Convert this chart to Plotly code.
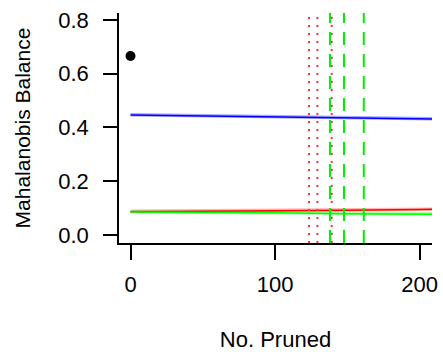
import plotly.graph_objects as go

# Data
x_pts = [0, 50, 100, 150, 200, 215]
blue_vals = [0.4465, 0.4430, 0.4400, 0.4370, 0.4320, 0.4310]
blue_light = [0.4470, 0.4440, 0.4395, 0.4380, 0.4335, 0.4320]
red_vals = [0.0868, 0.0880, 0.0895, 0.0925, 0.0950, 0.0960]
red_light = [0.0880, 0.0895, 0.0915, 0.0940, 0.0955, 0.0965]
green_vals = [0.0856, 0.0845, 0.0830, 0.0795, 0.0775, 0.0770]
green_light = [0.0862, 0.0850, 0.0840, 0.0810, 0.0790, 0.0785]

point_x = [0]
point_y = [0.666]

red_vlines = [123.5, 129.3, 139.2]
green_vlines = [138.0, 147.7, 161.4]

x_ticks = [0, 100, 200]
y_ticks = [0.0, 0.2, 0.4, 0.6, 0.8]
y_ticklabels = ["0.0", "0.2", "0.4", "0.6", "0.8"]

FONT = "Liberation Sans, Arial, Helvetica, sans-serif"

fig = go.Figure()

for vals, col in [(blue_light, "rgba(0,0,255,0.35)"), (red_light, "rgba(255,0,0,0.3)"),
                  (green_light, "rgba(0,255,0,0.35)")]:
    fig.add_trace(go.Scatter(x=x_pts, y=vals, mode="lines",
                             line=dict(color=col, width=3.5), showlegend=False,
                             hoverinfo="skip"))
for vals, col in [(blue_vals, "#0000FF"), (red_vals, "#FF0000"), (green_vals, "#00FF00")]:
    fig.add_trace(go.Scatter(x=x_pts, y=vals, mode="lines",
                             line=dict(color=col, width=1.5), showlegend=False))

fig.add_trace(go.Scatter(x=point_x, y=point_y, mode="markers",
                         marker=dict(color="black", size=10), showlegend=False))

for xv in red_vlines:
    fig.add_shape(type="line", x0=xv, x1=xv, y0=0, y1=1, xref="x", yref="paper",
                  line=dict(color="#FF3333", width=2, dash="2px,6px"))
for xv in green_vlines:
    fig.add_shape(type="line", x0=xv, x1=xv, y0=0, y1=1, xref="x", yref="paper",
                  line=dict(color="#00EE00", width=2, dash="13px,9px"))

fig.update_layout(
    width=443, height=352,
    margin=dict(l=119, r=11, t=13, b=109),
    paper_bgcolor="white", plot_bgcolor="white",
    font=dict(family=FONT, size=22, color="black"),
    xaxis=dict(range=[-7.96, 208.6], tickvals=x_ticks, showgrid=False, zeroline=False,
               showline=True, linecolor="black", linewidth=1.5, automargin=False,
               ticks="outside", ticklen=15, tickwidth=1.5, tickcolor="black",
               ticklabelstandoff=6,
               title=dict(text="No. Pruned", standoff=38, font=dict(size=22))),
    yaxis=dict(range=[-0.0298, 0.826], tickvals=y_ticks, ticktext=y_ticklabels,
               showgrid=False, zeroline=False, automargin=False,
               showline=True, linecolor="black", linewidth=1.5,
               ticks="outside", ticklen=14, tickwidth=1.5, tickcolor="black",
               ticklabelstandoff=10,
               title=dict(text="Mahalanobis Balance", standoff=22, font=dict(size=21))),
)

fig.write_html("out.html")
